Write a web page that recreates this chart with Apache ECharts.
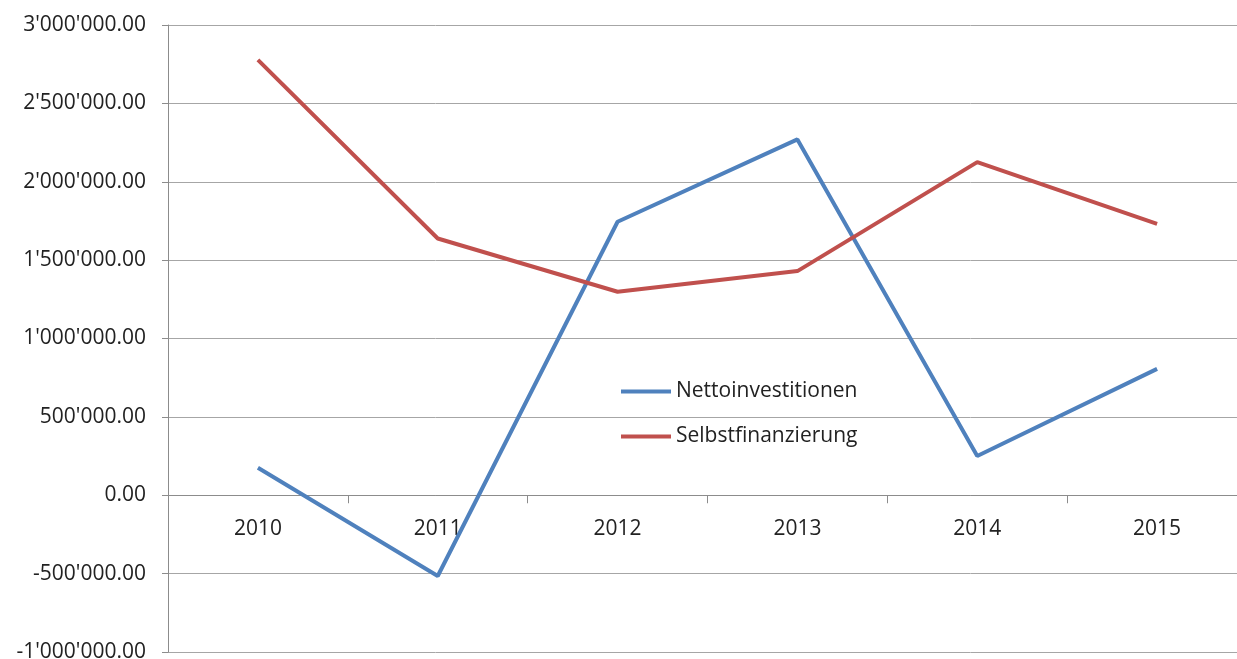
<!DOCTYPE html>
<html>
<head>
<meta charset="utf-8">
<script src="https://cdn.jsdelivr.net/npm/echarts@6/dist/echarts.min.js"></script>
<style>
  html, body { margin: 0; padding: 0; background: #fff; }
  #chart { width: 1237px; height: 659px; }
</style>
</head>
<body>
<div id="chart"></div>
<script>
var years = ['2010', '2011', '2012', '2013', '2014', '2015'];
var nettoinvestitionen = [175000, -515000, 1745000, 2270000, 250000, 806000];
var selbstfinanzierung = [2778000, 1638000, 1298000, 1430000, 2125000, 1731000];
var seriesNames = ['Nettoinvestitionen', 'Selbstfinanzierung'];

function swissFormat(v) {
  var neg = v < 0;
  var parts = Math.abs(v).toFixed(2).split('.');
  var intPart = parts[0].replace(/\B(?=(\d{3})+(?!\d))/g, "'");
  return (neg ? '-' : '') + intPart + '.' + parts[1];
}

var chartDom = document.getElementById('chart');
var myChart = echarts.init(chartDom);
var font = 'Open Sans';
var option = {
  animation: false,
  color: ['#4F81BD', '#C0504D'],
  grid: { left: 168, top: 25, width: 1079, height: 627, outerBoundsMode: 'none', containLabel: false },
  legend: {
    orient: 'vertical',
    left: 616,
    top: 376,
    icon: 'rect',
    itemWidth: 50,
    itemHeight: 4,
    itemGap: 24,
    textStyle: { fontFamily: font, fontSize: 21, color: '#222' },
    data: seriesNames
  },
  xAxis: [
    {
      type: 'category',
      data: years,
      boundaryGap: true,
      axisLine: { onZero: true, lineStyle: { color: '#8c8c8c', width: 1 } },
      axisTick: { show: true, length: 8, lineStyle: { color: '#8c8c8c' } },
      axisLabel: { show: false },
      splitLine: { show: false }
    },
    {
      // labels only, placed under the zero line
      type: 'category',
      data: years,
      position: 'bottom',
      offset: -158,
      boundaryGap: true,
      axisLine: { show: false, onZero: false },
      axisTick: { show: false },
      axisLabel: { fontFamily: font, fontSize: 21, color: '#222', margin: 25 },
      splitLine: { show: false }
    }
  ],
  yAxis: {
    type: 'value',
    min: -1000000,
    max: 3000000,
    interval: 500000,
    axisLine: { show: true, lineStyle: { color: '#8c8c8c', width: 1 } },
    axisTick: { show: true, length: 6, lineStyle: { color: '#8c8c8c' } },
    axisLabel: { fontFamily: font, fontSize: 21, color: '#222', margin: 22, formatter: swissFormat },
    splitLine: { show: true, lineStyle: { color: '#a6a6a6', width: 1 } }
  },
  series: [
    {
      name: seriesNames[0],
      type: 'line',
      data: nettoinvestitionen,
      symbol: 'none',
      lineStyle: { width: 4 }
    },
    {
      name: seriesNames[1],
      type: 'line',
      data: selbstfinanzierung,
      symbol: 'none',
      lineStyle: { width: 4 }
    }
  ]
};
myChart.setOption(option);
</script>
</body>
</html>
